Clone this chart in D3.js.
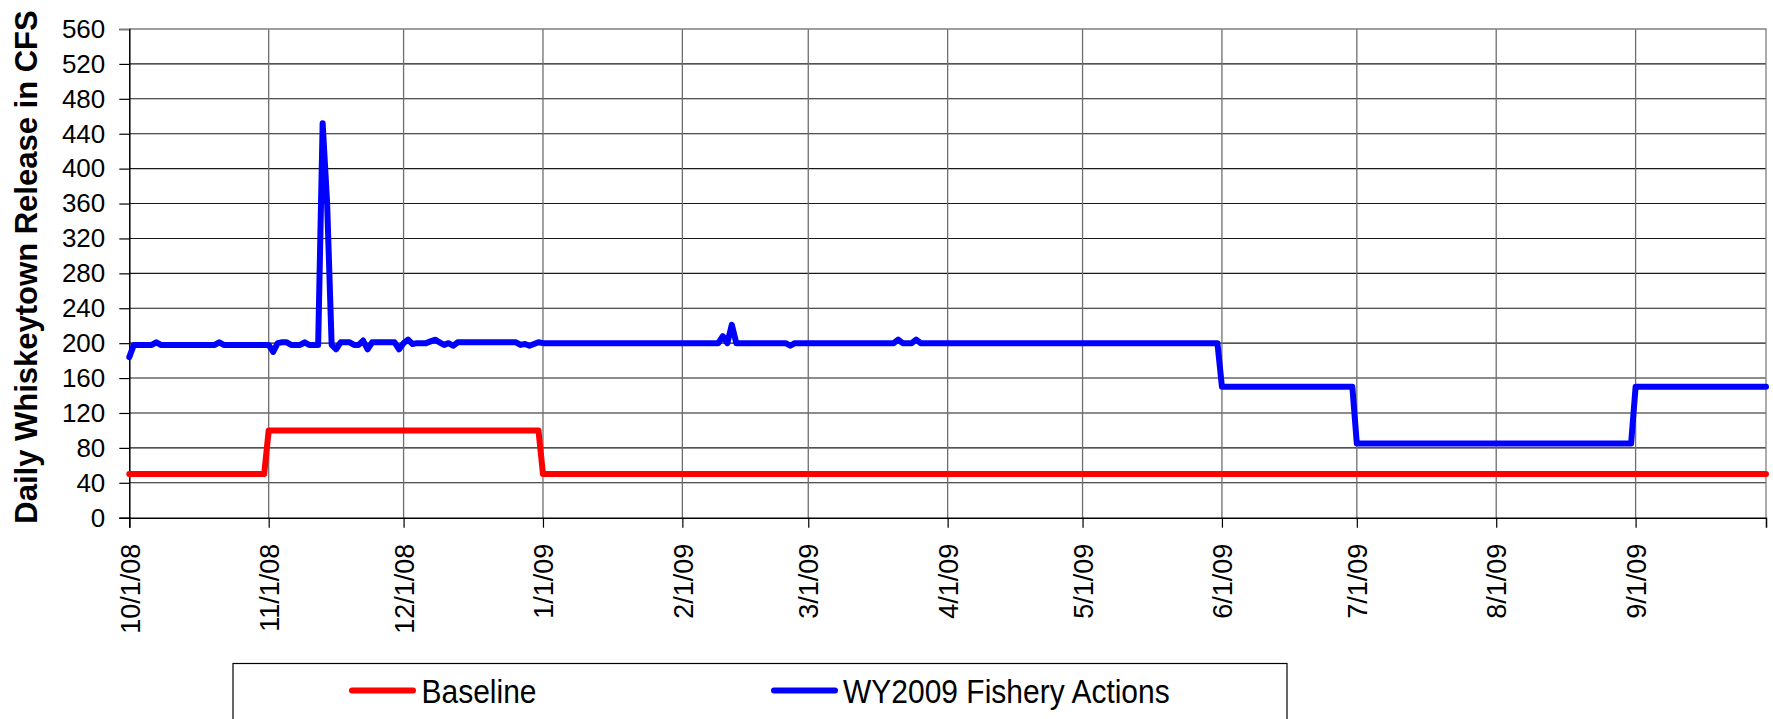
<!DOCTYPE html>
<html><head><meta charset="utf-8">
<script src="https://cdn.jsdelivr.net/npm/d3@7"></script>
<style>html,body{margin:0;padding:0;background:#fff;} svg{display:block;}</style>
</head><body>
<script>
// ---- data (daily, water year 2009) ----
const startDate = "2008-10-01";
const endDate = "2009-09-30";
const yTicks = [0,40,80,120,160,200,240,280,320,360,400,440,480,520,560];
const xTickLabels = ["10/1/08","11/1/08","12/1/08","1/1/09","2/1/09","3/1/09","4/1/09","5/1/09","6/1/09","7/1/09","8/1/09","9/1/09"];
const seriesNames = ["Baseline","WY2009 Fishery Actions"];

const baselineValues = [
  // Oct
  50,50,50,50,50,50,50,50,50,50,50,50,50,50,50,50,50,50,50,50,50,50,50,50,50,50,50,50,50,50,50,
  // Nov
  100,100,100,100,100,100,100,100,100,100,100,100,100,100,100,100,100,100,100,100,100,100,100,100,100,100,100,100,100,100,
  // Dec
  100,100,100,100,100,100,100,100,100,100,100,100,100,100,100,100,100,100,100,100,100,100,100,100,100,100,100,100,100,100,100,
  // Jan
  50,50,50,50,50,50,50,50,50,50,50,50,50,50,50,50,50,50,50,50,50,50,50,50,50,50,50,50,50,50,50,
  // Feb
  50,50,50,50,50,50,50,50,50,50,50,50,50,50,50,50,50,50,50,50,50,50,50,50,50,50,50,50,
  // Mar
  50,50,50,50,50,50,50,50,50,50,50,50,50,50,50,50,50,50,50,50,50,50,50,50,50,50,50,50,50,50,50,
  // Apr
  50,50,50,50,50,50,50,50,50,50,50,50,50,50,50,50,50,50,50,50,50,50,50,50,50,50,50,50,50,50,
  // May
  50,50,50,50,50,50,50,50,50,50,50,50,50,50,50,50,50,50,50,50,50,50,50,50,50,50,50,50,50,50,50,
  // Jun
  50,50,50,50,50,50,50,50,50,50,50,50,50,50,50,50,50,50,50,50,50,50,50,50,50,50,50,50,50,50,
  // Jul
  50,50,50,50,50,50,50,50,50,50,50,50,50,50,50,50,50,50,50,50,50,50,50,50,50,50,50,50,50,50,50,
  // Aug
  50,50,50,50,50,50,50,50,50,50,50,50,50,50,50,50,50,50,50,50,50,50,50,50,50,50,50,50,50,50,50,
  // Sep
  50,50,50,50,50,50,50,50,50,50,50,50,50,50,50,50,50,50,50,50,50,50,50,50,50,50,50,50,50,50
];

const fisheryValues = [
  // Oct
  184,198,198,198,198,198,201,198,198,198,198,198,198,198,198,198,198,198,198,198,201,198,198,198,198,198,198,198,198,198,198,
  // Nov
  198,190,200,201,201,198,198,198,201,198,198,198,452,360,198,193,201,201,201,198,198,203,193,201,201,201,201,201,201,193,
  // Dec
  200,204,199,200,200,200,202,204,201,198,200,197,201,201,201,201,201,201,201,201,201,201,201,201,201,201,198,199,197,199,201,
  // Jan
  200,200,200,200,200,200,200,200,200,200,200,200,200,200,200,200,200,200,200,200,200,200,200,200,200,200,200,200,200,200,200,
  // Feb
  200,200,200,200,200,200,200,200,200,208,200,221,200,200,200,200,200,200,200,200,200,200,200,200,197,200,200,200,
  // Mar
  200,200,200,200,200,200,200,200,200,200,200,200,200,200,200,200,200,200,200,200,204,200,200,200,204,200,200,200,200,200,200,
  // Apr
  200,200,200,200,200,200,200,200,200,200,200,200,200,200,200,200,200,200,200,200,200,200,200,200,200,200,200,200,200,200,
  // May
  200,200,200,200,200,200,200,200,200,200,200,200,200,200,200,200,200,200,200,200,200,200,200,200,200,200,200,200,200,200,200,
  // Jun
  150,150,150,150,150,150,150,150,150,150,150,150,150,150,150,150,150,150,150,150,150,150,150,150,150,150,150,150,150,150,
  // Jul
  85,85,85,85,85,85,85,85,85,85,85,85,85,85,85,85,85,85,85,85,85,85,85,85,85,85,85,85,85,85,85,
  // Aug
  85,85,85,85,85,85,85,85,85,85,85,85,85,85,85,85,85,85,85,85,85,85,85,85,85,85,85,85,85,85,85,
  // Sep
  150,150,150,150,150,150,150,150,150,150,150,150,150,150,150,150,150,150,150,150,150,150,150,150,150,150,150,150,150,150
];

const seriesColors = ["#ff0000","#0000ff"];

// ---- layout ----
const W = 1773, H = 719;
const plot = {left: 129.3, right: 1766, top: 29, bottom: 517.7};
const FONT = "'Liberation Sans', Arial, sans-serif";

const svg = d3.select("body").append("svg").attr("width", W).attr("height", H)
  .style("background", "#fff");

const parse = d3.utcParse("%Y-%m-%d");
const d0 = parse(startDate), d1 = parse(endDate);
const days = d3.utcDay.range(d0, d3.utcDay.offset(d1, 1));

const x = d3.scaleUtc().domain([d0, d1]).range([plot.left, plot.right]);
const y = d3.scaleLinear().domain([0, 560]).range([plot.bottom, plot.top]);

const monthStarts = d3.utcMonth.range(d0, d1);

// horizontal gridlines
svg.append("g").selectAll("line").data(yTicks.filter(v => v > 0 && v < 560)).join("line")
  .attr("x1", plot.left).attr("x2", plot.right)
  .attr("y1", d => y(d)).attr("y2", d => y(d))
  .attr("stroke", "#1a1a1a").attr("stroke-width", 1.1);

// vertical gridlines
svg.append("g").selectAll("line").data(monthStarts.slice(1)).join("line")
  .attr("x1", d => x(d)).attr("x2", d => x(d))
  .attr("y1", plot.top).attr("y2", plot.bottom)
  .attr("stroke", "#6e6e6e").attr("stroke-width", 1.3);

// plot border (top & right)
svg.append("path")
  .attr("d", `M${plot.left},${y(560)}H${plot.right}V${plot.bottom}`)
  .attr("fill", "none").attr("stroke", "#808080").attr("stroke-width", 1.3);

// axes
const yAxis = d3.axisLeft(y).tickValues(yTicks).tickSize(10).tickPadding(14);
const gy = svg.append("g").attr("transform", `translate(${plot.left},0)`).call(yAxis);
gy.select(".domain").attr("stroke", "#000").attr("stroke-width", 1.5);
gy.selectAll(".tick line").attr("stroke", "#000").attr("stroke-width", 1.2);
gy.selectAll(".tick text").attr("font-family", FONT).attr("font-size", 26).attr("fill", "#000");
gy.select(".tick:last-of-type line").attr("stroke", "#808080");

const xAxis = d3.axisBottom(x).tickValues(monthStarts).tickSize(10)
  .tickFormat((d, i) => xTickLabels[i]);
const gx = svg.append("g").attr("transform", `translate(0,${plot.bottom})`).call(xAxis);
gx.select(".domain").attr("stroke", "#000").attr("stroke-width", 1.5);
gx.selectAll(".tick line").attr("stroke", "#000").attr("stroke-width", 1.2);
gx.selectAll(".tick text")
  .attr("font-family", FONT).attr("font-size", 27).attr("fill", "#000")
  .attr("text-anchor", "end")
  .attr("transform", "translate(0,26) rotate(-90)")
  .attr("x", 0).attr("y", 0).attr("dy", "0.36em");

// series
const series = [baselineValues, fisheryValues].map((vals, k) => ({
  name: seriesNames[k], color: seriesColors[k],
  points: days.map((d, i) => ({date: d, v: vals[i]}))
}));

const line = d3.line().x(d => x(d.date)).y(d => y(d.v));
svg.append("g").selectAll("path").data(series).join("path")
  .attr("d", d => line(d.points))
  .attr("fill", "none").attr("stroke", d => d.color)
  .attr("stroke-width", 6).attr("stroke-linejoin", "round").attr("stroke-linecap", "round");

// y title
svg.append("text")
  .attr("transform", `translate(37,${(9+525)/2}) rotate(-90)`)
  .attr("text-anchor", "middle")
  .attr("font-family", FONT).attr("font-weight", "bold").attr("font-size", 31)
  .attr("fill", "#000")
  .text("Daily Whiskeytown Release in CFS");

// legend
svg.append("rect").attr("x", 233).attr("y", 663.5).attr("width", 1054).attr("height", 100)
  .attr("fill", "#fff").attr("stroke", "#000").attr("stroke-width", 1.2);
const legendPos = [{lx: 352, tx: 421.5}, {lx: 774, tx: 843}];
const lg = svg.append("g").selectAll("g").data(series).join("g");
lg.append("line")
  .attr("x1", (d, i) => legendPos[i].lx).attr("x2", (d, i) => legendPos[i].lx + 61)
  .attr("y1", 690.5).attr("y2", 690.5)
  .attr("stroke", d => d.color).attr("stroke-width", 6).attr("stroke-linecap", "round");
lg.append("text")
  .attr("transform", (d, i) => `translate(${legendPos[i].tx},702.5) scale(1,1.12)`)
  .attr("font-family", FONT).attr("font-size", 30).attr("fill", "#000")
  .text(d => d.name);
</script>
</body></html>
